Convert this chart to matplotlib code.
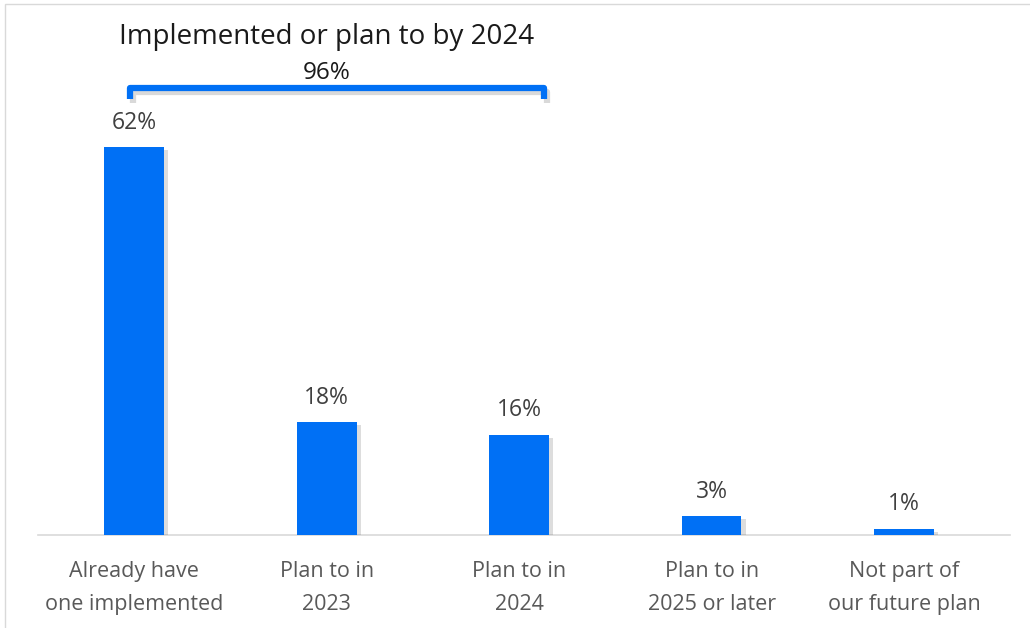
import matplotlib.pyplot as plt
import matplotlib.patheffects as pe
from matplotlib.patches import Rectangle
import numpy as np

categories = ['Already have\none implemented', 'Plan to in\n2023', 'Plan to in\n2024',
              'Plan to in\n2025 or later', 'Not part of\nour future plan']
values = [62, 18, 16, 3, 1]
bracket_label = 'Implemented or plan to by 2024'
bracket_total = 96

blue = '#0070F5'
plt.rcParams['font.family'] = ['Open Sans', 'DejaVu Sans']

fig = plt.figure(figsize=(10.3, 6.28), dpi=100)
ax = fig.add_axes([38 / 1030, 93 / 628, 972 / 1030, 525 / 628])

x = np.arange(len(values))
shadow = [pe.SimplePatchShadow(offset=(3, -2), alpha=0.18, shadow_rgbFace='#444444'), pe.Normal()]
bars = ax.bar(x, values, width=0.31, color=blue, zorder=3)
for b in bars:
    b.set_path_effects(shadow)

for xi, v in zip(x, values):
    ax.text(xi, v + 3.9, f'{v}%', ha='center', va='center', fontsize=16.5, color='#404040')

ax.set_xlim(-0.5, 4.55)
ax.set_ylim(0, 83.9)
ax.set_xticks(x)
ax.set_xticklabels(categories, fontsize=15.5, color='#595959', linespacing=1.7)
ax.tick_params(axis='x', length=0, pad=19)
ax.set_yticks([])
for s in ['top', 'right', 'left']:
    ax.spines[s].set_visible(False)
ax.spines['bottom'].set_color('#d9d9d9')
ax.spines['bottom'].set_linewidth(1.2)

# bracket over first three bars
bx0, bx1 = -0.02, 2.13
by, bd = 71.4, 69.6
ax.plot([bx0, bx0, bx1, bx1], [bd, by, by, bd], color=blue, lw=4.5, solid_joinstyle='round',
        solid_capstyle='butt', clip_on=False, zorder=4,
        path_effects=[pe.SimpleLineShadow(offset=(2, -2.5), alpha=0.15), pe.Normal()])
ax.text(1.0, 73.8, f'{bracket_total}%', ha='center', va='center', fontsize=17.5, color='#1a1a1a')
ax.text(1.0, 79.6, bracket_label, ha='center', va='center', fontsize=20,
        color='#1a1a1a', clip_on=False)

# light frame
fig.patches.append(Rectangle((5 / 1030, -0.1), 1.2, (628 - 4) / 628 + 0.1, transform=fig.transFigure,
                             fill=False, edgecolor='#d9d9d9', lw=1))

fig.savefig('out.png', dpi=100)
